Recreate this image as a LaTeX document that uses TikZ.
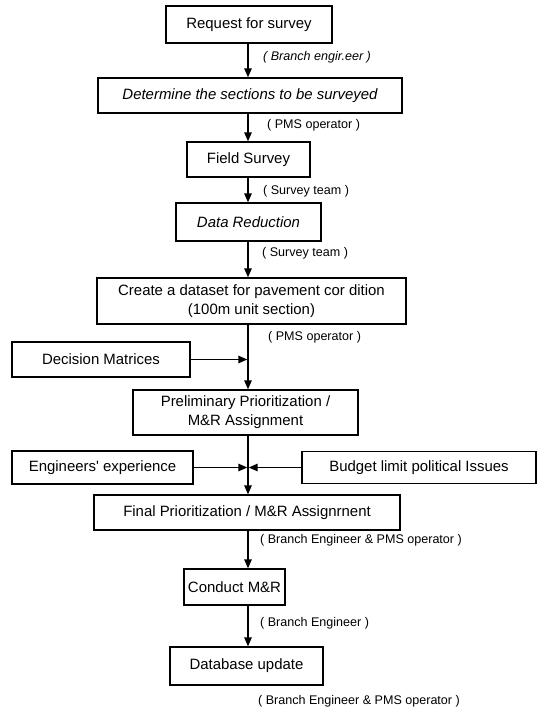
\documentclass[tikz,border=0pt]{standalone}
\usepackage{fontspec}
\setmainfont{Liberation Sans}[Ligatures=TeXOff]
\usetikzlibrary{arrows.meta}
\begin{document}
\begin{tikzpicture}[x=1bp,y=-1bp,
  box/.style={draw, line width=1.4bp, inner sep=0pt, font=\fontsize{15}{19}\selectfont, align=center},
  lbl/.style={anchor=west, inner sep=0pt, font=\fontsize{12.6}{15}\selectfont},
  arr/.style={line width=1.5bp, -{Triangle[length=9bp,width=7.5bp]}}]
\useasboundingbox (0,0) rectangle (540,708);
% boxes
\node[box, minimum width=166bp, minimum height=37bp] (req) at (249,24.5) {Request for survey};
\node[box, minimum width=304bp, minimum height=35bp] (det) at (250,95.5) {\itshape Determine the sections to be surveyed};
\node[box, minimum width=123bp, minimum height=35bp] (field) at (248.5,159.5) {Field Survey};
\node[box, minimum width=145bp, minimum height=38bp] (data) at (248.5,222) {\itshape Data Reduction};
\node[box, minimum width=309bp, minimum height=46bp] (create) at (251.5,301) {Create a dataset for pavement cor dition\\(100m unit section)};
\node[box, minimum width=178bp, minimum height=35bp] (dec) at (101,359.5) {Decision Matrices};
\node[box, minimum width=225bp, minimum height=45bp] (prelim) at (245.5,412.5) {Preliminary Prioritization /\\M\&R Assignment};
\node[box, minimum width=181bp, minimum height=33bp] (eng) at (102.5,467.5) {Engineers' experience};
\node[box, minimum width=234bp, minimum height=32bp] (budget) at (419,467.5) {Budget limit political Issues};
\node[box, minimum width=306bp, minimum height=35bp] (final) at (247,512.5) {Final Prioritization / M\&R Assignrnent};
\node[box, minimum width=101bp, minimum height=36bp] (conduct) at (234.5,587) {Conduct M\&R};
\node[box, minimum width=153bp, minimum height=38bp] (db) at (246.5,666) {Database update};
% labels
\node[lbl, font=\fontsize{12.6}{15}\selectfont\itshape] (l1) at (263,57) {( Branch engir.eer )};
\node[lbl] (l2) at (267,125) {( PMS operator )};
\node[lbl] (l3) at (263,191) {( Survey team )};
\node[lbl] (l4) at (262,253) {( Survey team )};
\node[lbl] (l5) at (268,337) {( PMS operator )};
\node[lbl] (l6) at (260,540) {( Branch Engineer \& PMS operator )};
\node[lbl] (l7) at (260,623) {( Branch Engineer )};
\node[lbl] (l8) at (258,701) {( Branch Engineer \& PMS operator )};
% spine
\coordinate (sx) at (248,0);
\draw[arr] (req.south -| sx) -- (det.north -| sx);
\draw[arr] (det.south -| sx) -- (field.north -| sx);
\draw[arr] (field.south -| sx) -- (data.north -| sx);
\draw[arr] (data.south -| sx) -- (create.north -| sx);
\draw[arr] (create.south -| sx) -- (prelim.north -| sx);
\draw[arr] (prelim.south -| sx) -- (final.north -| sx);
\draw[arr] (final.south -| sx) -- (conduct.north -| sx);
\draw[arr] (conduct.south -| sx) -- (db.north -| sx);
% side inputs
\coordinate (j1) at (dec.east -| sx);
\draw[arr, shorten >=0.7bp] (dec.east) -- (j1);
\coordinate (j2) at (eng.east -| sx);
\draw[arr, shorten >=0.7bp] (eng.east) -- (j2);
\draw[arr, shorten >=0.7bp] (budget.west) -- (j2);
\end{tikzpicture}
\end{document}
